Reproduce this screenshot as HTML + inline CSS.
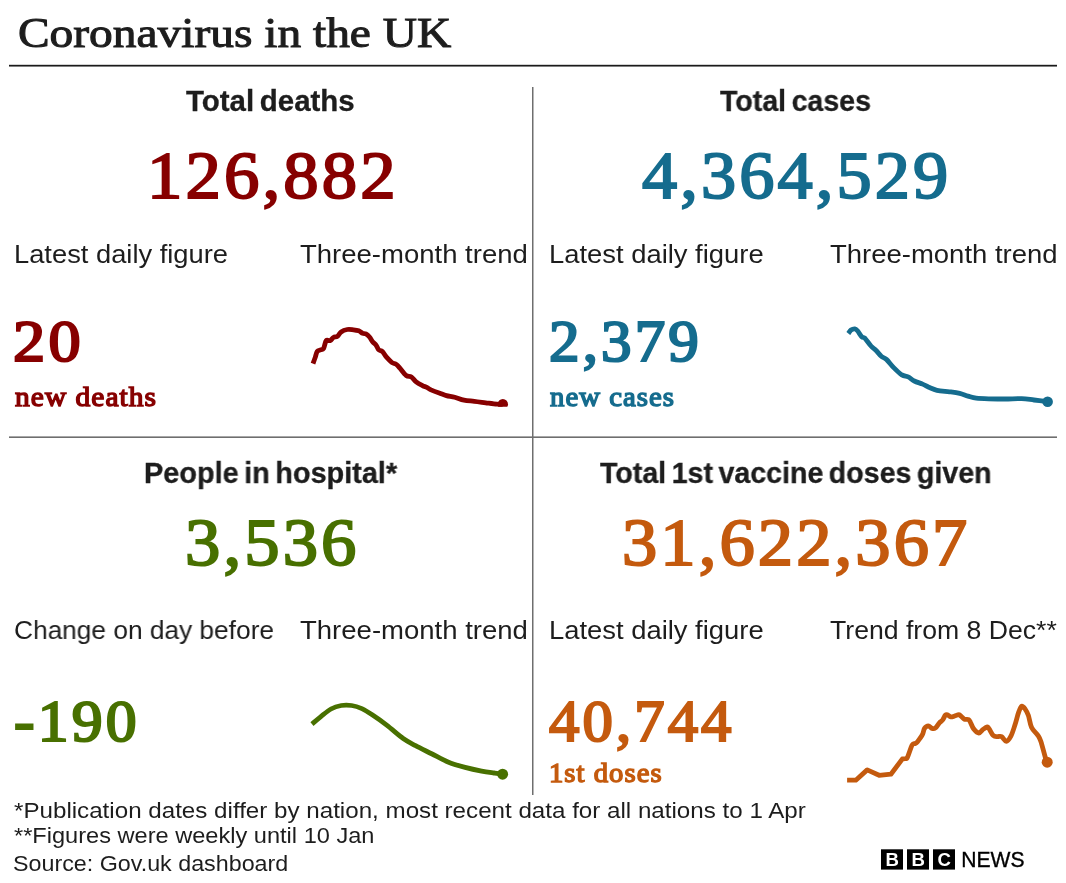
<!DOCTYPE html>
<html><head><meta charset="utf-8"><title>Coronavirus in the UK</title>
<style>
html,body{margin:0;padding:0;background:#fff;}
body{width:1066px;height:883px;position:relative;overflow:hidden;font-family:"Liberation Sans",sans-serif;}
.t{position:absolute;white-space:nowrap;line-height:1;transform-origin:0 0;will-change:transform;}
.ov{position:absolute;left:0;top:0;}
</style></head><body>
<svg class="ov" width="1066" height="883" viewBox="0 0 1066 883">
<rect x="9" y="64.8" width="1048" height="1.75" fill="#1a1a1a"/>
<rect x="532" y="87" width="1.5" height="708" fill="#6e6e6e"/>
<rect x="9" y="436.4" width="1048" height="1.6" fill="#6e6e6e"/>
</svg>
<div class="t" style="left:17.91px;top:11.50px;font-family:'Liberation Serif', serif;font-weight:400;font-size:42.0px;color:#1d1d1d;-webkit-text-stroke:1px #1d1d1d;transform:scaleX(1.1288)">Coronavirus in the UK</div>
<div class="t" style="left:186.25px;top:86.65px;font-family:'Liberation Sans', sans-serif;font-weight:700;font-size:29.0px;color:#1d1d1d;-webkit-text-stroke:0.3px #1d1d1d;word-spacing:-2.5px;transform:scaleX(1.0154)">Total deaths</div>
<div class="t" style="left:719.75px;top:86.65px;font-family:'Liberation Sans', sans-serif;font-weight:700;font-size:29.0px;color:#1d1d1d;-webkit-text-stroke:0.3px #1d1d1d;word-spacing:-2.5px;transform:scaleX(0.9845)">Total cases</div>
<div class="t" style="left:143.50px;top:458.65px;font-family:'Liberation Sans', sans-serif;font-weight:700;font-size:29.0px;color:#1d1d1d;-webkit-text-stroke:0.3px #1d1d1d;word-spacing:-2.5px;transform:scaleX(0.9946)">People in hospital*</div>
<div class="t" style="left:599.65px;top:458.65px;font-family:'Liberation Sans', sans-serif;font-weight:700;font-size:29.0px;color:#1d1d1d;-webkit-text-stroke:0.3px #1d1d1d;word-spacing:-2.5px;transform:scaleX(0.9857)">Total 1st vaccine doses given</div>
<div class="t" style="left:146.80px;top:141.00px;font-family:'Liberation Serif', serif;font-weight:400;font-size:68px;color:#870000;-webkit-text-stroke:2px #870000;letter-spacing:3px;transform:scaleX(1.0400)">126,882</div>
<div class="t" style="left:642.04px;top:140.80px;font-family:'Liberation Serif', serif;font-weight:400;font-size:68px;color:#156c8e;-webkit-text-stroke:2px #156c8e;letter-spacing:3px;transform:scaleX(1.0346)">4,364,529</div>
<div class="t" style="left:184.55px;top:508.30px;font-family:'Liberation Serif', serif;font-weight:400;font-size:68px;color:#487000;-webkit-text-stroke:2px #487000;letter-spacing:3px;transform:scaleX(1.0387)">3,536</div>
<div class="t" style="left:621.55px;top:508.20px;font-family:'Liberation Serif', serif;font-weight:400;font-size:68px;color:#c45a0e;-webkit-text-stroke:2px #c45a0e;letter-spacing:3px;transform:scaleX(1.0368)">31,622,367</div>
<div class="t" style="left:14.15px;top:240.80px;font-family:'Liberation Sans', sans-serif;font-weight:400;font-size:26.5px;color:#1d1d1d;transform:scaleX(1.0302)">Latest daily figure</div>
<div class="t" style="left:299.85px;top:240.80px;font-family:'Liberation Sans', sans-serif;font-weight:400;font-size:26.5px;color:#1d1d1d;transform:scaleX(1.0380)">Three-month trend</div>
<div class="t" style="left:548.50px;top:240.80px;font-family:'Liberation Sans', sans-serif;font-weight:400;font-size:26.5px;color:#1d1d1d;transform:scaleX(1.0333)">Latest daily figure</div>
<div class="t" style="left:830.35px;top:240.80px;font-family:'Liberation Sans', sans-serif;font-weight:400;font-size:26.5px;color:#1d1d1d;transform:scaleX(1.0371)">Three-month trend</div>
<div class="t" style="left:13.50px;top:616.80px;font-family:'Liberation Sans', sans-serif;font-weight:400;font-size:26.5px;color:#1d1d1d;transform:scaleX(0.9913)">Change on day before</div>
<div class="t" style="left:299.75px;top:616.80px;font-family:'Liberation Sans', sans-serif;font-weight:400;font-size:26.5px;color:#1d1d1d;transform:scaleX(1.0385)">Three-month trend</div>
<div class="t" style="left:548.50px;top:616.80px;font-family:'Liberation Sans', sans-serif;font-weight:400;font-size:26.5px;color:#1d1d1d;transform:scaleX(1.0333)">Latest daily figure</div>
<div class="t" style="left:830.37px;top:616.80px;font-family:'Liberation Sans', sans-serif;font-weight:400;font-size:26.5px;color:#1d1d1d;transform:scaleX(1.0045)">Trend from 8 Dec**</div>
<div class="t" style="left:13.37px;top:313.10px;font-family:'Liberation Serif', serif;font-weight:400;font-size:58.6px;color:#870000;-webkit-text-stroke:2.2px #870000;letter-spacing:3px;transform:scaleX(1.0984)">20</div>
<div class="t" style="left:548.75px;top:313.10px;font-family:'Liberation Serif', serif;font-weight:400;font-size:58.6px;color:#156c8e;-webkit-text-stroke:2.2px #156c8e;letter-spacing:3px;transform:scaleX(1.0421)">2,379</div>
<div class="t" style="left:13.86px;top:693.10px;font-family:'Liberation Serif', serif;font-weight:400;font-size:58.6px;color:#487000;-webkit-text-stroke:2.2px #487000;letter-spacing:3px;transform:scaleX(1.0530)">-190</div>
<div class="t" style="left:549.05px;top:692.70px;font-family:'Liberation Serif', serif;font-weight:400;font-size:58.6px;color:#c45a0e;-webkit-text-stroke:2.2px #c45a0e;letter-spacing:3px;transform:scaleX(1.0359)">40,744</div>
<div class="t" style="left:14.56px;top:383.10px;font-family:'Liberation Serif', serif;font-weight:400;font-size:27.5px;color:#870000;-webkit-text-stroke:1.4px #870000;letter-spacing:1px;transform:scaleX(1.0690)">new deaths</div>
<div class="t" style="left:549.66px;top:383.20px;font-family:'Liberation Serif', serif;font-weight:400;font-size:27.5px;color:#156c8e;-webkit-text-stroke:1.4px #156c8e;letter-spacing:1px;transform:scaleX(1.0437)">new cases</div>
<div class="t" style="left:549.42px;top:759.10px;font-family:'Liberation Serif', serif;font-weight:400;font-size:27.5px;color:#c45a0e;-webkit-text-stroke:1.4px #c45a0e;letter-spacing:1px;transform:scaleX(1.0414)">1st doses</div>
<div class="t" style="left:13.64px;top:799.80px;font-family:'Liberation Sans', sans-serif;font-weight:400;font-size:21.8px;color:#1d1d1d;transform:scaleX(1.1082)">*Publication dates differ by nation, most recent data for all nations to 1 Apr</div>
<div class="t" style="left:13.66px;top:824.50px;font-family:'Liberation Sans', sans-serif;font-weight:400;font-size:21.8px;color:#1d1d1d;transform:scaleX(1.0819)">**Figures were weekly until 10 Jan</div>
<div class="t" style="left:13.40px;top:852.60px;font-family:'Liberation Sans', sans-serif;font-weight:400;font-size:21.8px;color:#1d1d1d;transform:scaleX(1.0682)">Source: Gov.uk dashboard</div>
<svg class="ov" width="1066" height="883" viewBox="0 0 1066 883">
<defs><clipPath id="cr"><rect x="0" y="0" width="1066" height="406.7"/></clipPath></defs>
<g fill="none" stroke-width="4.8" stroke-linejoin="round" stroke-linecap="butt">
<path d="M313.0,363.6 C313.4,362.5 314.6,359.2 315.3,357.2 C316.0,355.2 316.3,352.7 317.2,351.5 C318.1,350.3 319.4,350.4 320.5,349.9 C321.6,349.4 322.7,349.9 323.6,348.4 C324.6,346.8 325.1,341.9 326.2,340.6 C327.3,339.3 329.1,341.1 330.3,340.6 C331.5,340.1 332.2,338.2 333.4,337.5 C334.6,336.8 336.2,337.2 337.5,336.3 C338.8,335.4 339.5,333.0 341.1,331.9 C342.7,330.8 345.2,329.9 347.3,329.5 C349.4,329.1 351.6,329.6 353.5,329.8 C355.4,330.0 357.1,330.2 358.7,330.8 C360.2,331.4 361.6,332.9 362.8,333.4 C364.0,333.9 364.8,333.3 365.9,333.9 C367.0,334.5 368.4,335.7 369.5,337.0 C370.6,338.3 371.5,340.3 372.6,341.7 C373.7,343.1 375.2,343.9 376.2,345.3 C377.2,346.7 377.8,348.9 378.8,349.9 C379.8,350.9 381.1,350.3 382.4,351.5 C383.7,352.7 384.9,355.4 386.5,357.2 C388.1,359.0 390.1,361.1 391.7,362.3 C393.3,363.5 394.9,363.4 396.3,364.4 C397.7,365.4 398.4,366.4 400.0,368.3 C401.6,370.2 404.3,374.1 406.2,375.5 C408.1,376.9 409.7,375.9 411.4,377.0 C413.1,378.1 414.6,380.7 416.5,382.2 C418.4,383.7 421.0,384.9 422.7,385.8 C424.4,386.7 425.4,386.6 426.8,387.3 C428.2,388.0 428.9,388.9 431.0,389.9 C433.1,390.8 436.6,392.1 439.2,393.0 C441.8,393.9 443.8,394.9 446.4,395.6 C449.0,396.3 451.8,396.4 454.7,397.2 C457.6,398.0 460.7,399.5 464.0,400.2 C467.3,400.9 470.7,400.9 474.3,401.3 C477.9,401.7 481.9,402.3 485.7,402.8 C489.5,403.3 494.1,404.0 497.0,404.2 C499.9,404.4 501.8,404.2 502.8,404.2" stroke="#870000"/>
<path d="M848.3,333.5 C848.8,332.9 849.9,330.8 851.0,330.0 C852.1,329.2 853.8,328.7 854.9,328.8 C856.0,328.9 856.4,329.5 857.5,330.8 C858.6,332.1 860.5,335.5 861.7,336.7 C862.9,337.9 863.2,336.6 864.8,338.1 C866.3,339.7 869.1,343.9 871.0,346.0 C872.9,348.1 874.4,348.8 876.1,350.5 C877.8,352.2 879.6,354.8 881.3,356.3 C883.0,357.8 884.3,357.5 886.4,359.4 C888.5,361.3 891.1,365.0 893.7,367.6 C896.3,370.2 899.5,373.3 901.9,374.9 C904.3,376.4 906.0,375.9 908.1,376.9 C910.2,377.9 911.9,379.8 914.3,381.0 C916.7,382.2 920.2,383.1 922.6,384.1 C925.0,385.1 926.4,386.2 928.8,387.2 C931.2,388.2 933.6,389.5 937.0,390.3 C940.4,391.1 945.6,391.3 949.4,391.8 C953.2,392.3 956.6,392.7 959.7,393.4 C962.8,394.1 965.2,395.3 968.0,396.1 C970.8,396.9 972.8,397.8 976.2,398.2 C979.6,398.6 983.8,398.7 988.6,398.8 C993.4,398.9 999.6,399.0 1005.1,399.0 C1010.6,399.0 1016.8,398.4 1021.6,398.6 C1026.4,398.8 1029.7,399.5 1034.0,400.0 C1038.3,400.5 1045.3,401.4 1047.6,401.7" stroke="#156c8e"/>
<path d="M312.0,724.1 C313.4,722.9 317.4,719.3 320.6,716.8 C323.8,714.3 327.6,710.9 331.0,709.0 C334.4,707.1 337.9,706.1 341.3,705.5 C344.7,704.9 348.2,705.0 351.6,705.5 C355.0,706.0 358.5,707.1 361.9,708.6 C365.3,710.1 368.1,712.0 372.2,714.8 C376.3,717.5 381.5,721.1 386.7,725.1 C391.9,729.1 398.4,735.1 403.2,738.5 C408.0,741.9 410.8,743.1 415.6,745.7 C420.4,748.3 426.6,751.2 432.1,754.0 C437.6,756.8 443.1,760.0 448.6,762.2 C454.1,764.4 459.6,765.9 465.1,767.4 C470.6,768.9 476.8,770.2 481.6,771.1 C486.4,772.0 490.5,772.5 494.0,773.0 C497.5,773.5 501.2,774.0 502.6,774.2" stroke="#487000"/>
<path d="M847.1,780.2 L855.8,780.2 L867.2,769.9 L879.1,775.3 L890.9,774.2 L902.4,758.9 L902.4,758.9 C903.0,758.8 904.9,758.8 905.8,758.5 C906.6,758.2 906.4,759.5 907.5,757.2 C908.6,754.9 910.9,747.2 912.2,744.9 C913.5,742.6 914.2,744.1 915.1,743.6 C916.0,743.1 916.1,743.4 917.3,741.9 C918.5,740.4 921.2,737.0 922.4,734.7 C923.6,732.5 923.5,729.9 924.5,728.4 C925.5,726.9 927.0,725.8 928.3,725.8 C929.6,725.8 930.9,728.0 932.1,728.4 C933.3,728.8 934.3,728.8 935.5,727.9 C936.7,727.0 938.2,724.1 939.4,722.8 C940.6,721.5 941.7,721.2 942.7,719.9 C943.7,718.6 944.5,716.1 945.3,715.2 C946.1,714.4 946.5,714.5 947.4,714.8 C948.3,715.1 949.6,716.7 950.8,716.9 C952.0,717.1 953.2,716.4 954.6,716.0 C956.0,715.6 957.8,714.5 958.9,714.6 C960.0,714.7 960.5,715.7 961.4,716.5 C962.3,717.3 963.2,718.7 964.4,719.2 C965.6,719.7 967.6,719.0 968.6,719.6 C969.6,720.2 969.8,721.2 970.6,722.7 C971.5,724.2 972.3,727.2 973.7,728.9 C975.1,730.6 977.4,732.9 978.9,733.0 C980.4,733.1 981.6,730.4 983.0,729.4 C984.4,728.4 986.2,727.1 987.2,727.0 C988.2,726.9 988.2,727.5 989.2,728.9 C990.2,730.3 991.9,734.3 993.3,735.6 C994.7,736.9 996.1,736.4 997.5,736.6 C998.9,736.8 1000.1,735.8 1001.6,736.6 C1003.1,737.4 1004.7,741.4 1006.2,741.3 C1007.8,741.2 1009.4,738.9 1010.9,736.1 C1012.4,733.4 1013.7,728.8 1015.0,724.8 C1016.3,720.8 1017.5,715.5 1018.6,712.4 C1019.7,709.3 1020.6,706.7 1021.7,706.2 C1022.8,705.7 1024.2,707.8 1025.3,709.3 C1026.4,710.8 1027.4,712.5 1028.4,715.5 C1029.4,718.5 1030.0,724.0 1031.5,727.3 C1033.0,730.6 1036.2,732.8 1037.7,735.1 C1039.2,737.4 1039.4,737.2 1040.8,741.3 C1042.2,745.4 1044.9,756.4 1046.0,759.9 C1047.1,763.4 1047.0,761.8 1047.2,762.2" stroke="#c45a0e"/>
</g>
<circle cx="502.8" cy="404.2" r="5.2" fill="#870000" clip-path="url(#cr)"/>
<circle cx="1047.6" cy="401.7" r="5.3" fill="#156c8e"/>
<circle cx="502.6" cy="774.2" r="5.5" fill="#487000"/>
<circle cx="1047.2" cy="762.2" r="5.5" fill="#c45a0e"/>
</svg>
<svg class="ov" width="1066" height="883" viewBox="0 0 1066 883">
<g fill="#000"><rect x="881" y="849.3" width="22" height="20.3"/><rect x="907" y="849.3" width="22" height="20.3"/><rect x="933" y="849.3" width="22" height="20.3"/></g>
<g fill="#fff" font-family="Liberation Sans, sans-serif" font-weight="700" font-size="18.6" text-anchor="middle">
<text x="892.2" y="865.7">B</text><text x="918.2" y="865.7">B</text><text x="944.2" y="865.7">C</text></g>
<text x="961.2" y="866.8" fill="#000" font-family="Liberation Sans, sans-serif" font-size="21.8" stroke="#000" stroke-width="0.35" textLength="63.3" lengthAdjust="spacingAndGlyphs">NEWS</text>
</svg>
</body></html>
